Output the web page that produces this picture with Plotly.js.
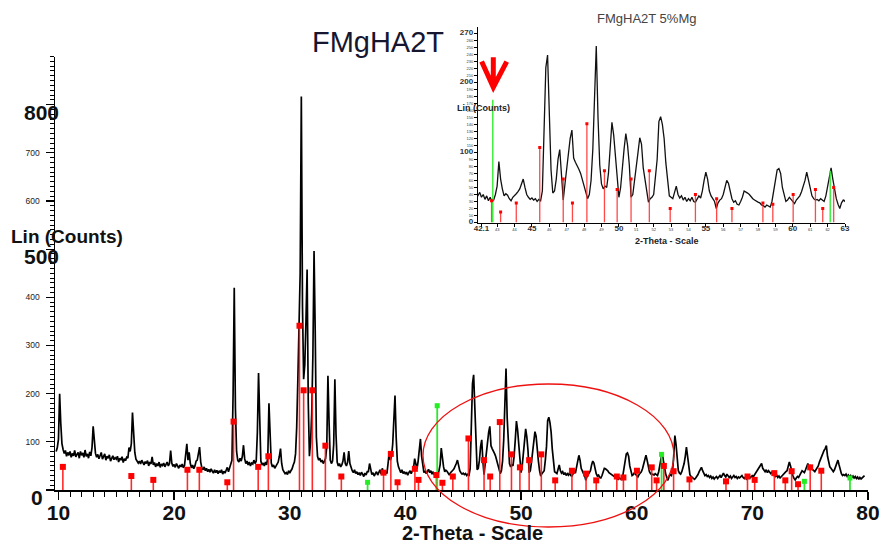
<!DOCTYPE html>
<html>
<head>
<meta charset="utf-8">
<script src="https://cdn.plot.ly/plotly-3.0.1.min.js"></script>
<style>html,body{margin:0;padding:0;background:#fff}#chart{width:886px;height:543px}</style>
</head>
<body>
<div id="chart"></div>
<script>
// ---- Diffractogram (2-theta sampled every 0.1 deg from 9.8) ----
const thetaStart = 9.8;
const thetaStep = 0.1;
const counts = [
  80, 88,
  105, 200, 138, 96, 84, 76, 82, 70, 78, 72,      // 10
  80, 68, 76, 71, 82, 69, 74, 78, 66, 80,         // 11
  72, 77, 68, 83, 70, 75, 66, 79, 71, 88,         // 12
  132, 96, 76, 68, 74, 65, 72, 78, 64, 70,        // 13
  75, 62, 70, 66, 73, 60, 68, 71, 63, 67,         // 14
  64, 70, 58, 66, 62, 69, 57, 65, 61, 68,         // 15
  66, 88, 80, 96, 161, 118, 78, 64, 60, 56,       // 16
  60, 54, 62, 57, 52, 59, 55, 61, 50, 58,         // 17
  54, 69, 52, 57, 48, 55, 50, 58, 47, 54,         // 18
  51, 56, 48, 53, 58, 50, 55, 82, 56, 49,         // 19
  53, 47, 55, 50, 45, 52, 48, 54, 46, 51,         // 20
  70, 96, 62, 78, 55, 46, 52, 44, 50, 60,         // 21
  62, 75, 89, 58, 46, 42, 48, 40, 45, 38,         // 22
  43, 37, 44, 39, 35, 42, 36, 41, 34, 40,         // 23
  36, 42, 33, 39, 35, 41, 47, 38, 46, 52,         // 24
  62, 200, 420, 170, 80, 62, 58, 66, 60, 70,      // 25
  93, 65, 55, 60, 52, 58, 50, 56, 54, 62,         // 26
  55, 60, 120, 243, 110, 60, 52, 56, 50, 58,      // 27
  52, 68, 180, 110, 56, 48, 52, 45, 50, 55,       // 28
  58, 70, 86, 55, 42, 38, 34, 36, 32, 40,         // 29
  35, 40, 44, 52, 58, 75, 130, 230, 340, 450,     // 30
  817, 380, 230, 260, 350, 458, 180, 70, 100, 160,// 31
  280, 496, 330, 110, 70, 62, 66, 58, 62, 55,     // 32
  60, 66, 90, 237, 140, 62, 55, 60, 95, 230,      // 33
  115, 58, 50, 55, 48, 52, 60, 78, 55, 50,        // 34
  58, 81, 55, 45, 40, 36, 42, 34, 38, 32,         // 35
  36, 30, 37, 33, 28, 35, 31, 38, 38, 55,         // 36
  40, 32, 36, 29, 34, 38, 31, 35, 42, 33,         // 37
  45, 36, 32, 38, 34, 55, 78, 62, 70, 95,         // 38
  150, 196, 110, 60, 48, 40, 36, 42, 34, 38,      // 39
  33, 37, 31, 36, 40, 34, 38, 45, 65, 50,         // 40
  44, 60, 90, 106, 70, 45, 36, 40, 34, 38,        // 41
  43, 36, 40, 33, 38, 31, 36, 30, 32, 40,         // 42
  52, 87, 62, 48, 38, 41, 39, 34, 31, 36,         // 43
  38, 41, 44, 48, 55, 62, 50, 40, 36, 33,         // 44
  35, 32, 34, 30, 33, 31, 45, 120, 221, 239,      // 45
  160, 75, 42, 45, 62, 90, 104, 60, 32, 55,       // 46
  80, 100, 120, 132, 92, 86, 82, 76, 70, 60,      // 47
  52, 42, 34, 40, 60, 104, 198, 252, 150, 82,     // 48
  55, 48, 52, 50, 70, 104, 143, 125, 95, 56,      // 49
  36, 50, 82, 105, 127, 110, 82, 36, 40, 58,      // 50
  82, 100, 121, 112, 78, 60, 40, 29, 34, 36,      // 51
  40, 62, 90, 144, 151, 140, 120, 85, 60, 38,     // 52
  36, 34, 43, 52, 40, 35, 38, 32, 36, 30,         // 53
  34, 31, 36, 30, 29, 33, 38, 35, 45, 60,         // 54
  72, 62, 45, 38, 34, 30, 20, 28, 32, 34,         // 55
  40, 52, 60, 56, 42, 34, 29, 31, 26, 25,         // 56
  30, 36, 45, 44, 42, 40, 36, 34, 32, 30,         // 57
  29, 28, 25, 24, 22, 25, 23, 22, 30, 45,         // 58
  60, 75, 77, 70, 50, 38, 30, 32, 36, 33,         // 59
  30, 27, 32, 35, 38, 44, 52, 60, 72, 62,         // 60
  48, 38, 34, 32, 33, 31, 34, 32, 30, 38,         // 61
  52, 70, 78, 62, 45, 34, 26, 20, 28, 32,         // 62
  30, 40, 70, 113, 95, 60, 40, 35, 33, 38,        // 63
  45, 55, 70, 89, 70, 45, 32, 28, 26, 24,         // 64
  22, 25, 28, 32, 38, 44, 47, 40, 35, 30,         // 65
  32, 28, 30, 26, 29, 24, 27, 23, 26, 28,         // 66
  24, 27, 30, 26, 32, 35, 30, 27, 33, 28,         // 67
  26, 29, 24, 27, 30, 26, 28, 24, 27, 25,         // 68
  28, 30, 26, 24, 27, 23, 26, 29, 25, 28,         // 69
  30, 28, 32, 35, 38, 42, 48, 52, 55, 45,         // 70
  40, 38, 42, 36, 40, 38, 34, 37, 32, 30,         // 71
  28, 31, 26, 29, 25, 28, 30, 33, 36, 38,         // 72
  40, 52, 58, 50, 38, 30, 24, 21, 25, 28,         // 73
  26, 30, 35, 40, 38, 36, 42, 48, 55, 46,         // 74
  52, 45, 42, 40, 38, 42, 46, 50, 58, 65,         // 75
  72, 78, 82, 86, 92, 70, 55, 48, 45, 40,         // 76
  38, 42, 48, 55, 62, 52, 40, 34, 30, 32,         // 77
  30, 33, 28, 31, 27, 30, 26, 29, 25, 28,         // 78
  24, 27, 22, 26, 23, 25, 28, 30                  // 79
];

// ---- Reference pattern sticks ----
const redPos = [10.38, 16.3, 18.2, 21.15, 22.18, 24.6, 25.14, 27.27, 28.15, 30.84, 31.2, 31.95, 33.08, 34.46,
  38.11, 38.74, 39.32, 40.82, 41.13, 42.68, 43.2, 44.1, 45.45, 46.8, 47.33, 48.16, 49.17, 49.9, 50.7, 51.75,
  52.95, 54.4, 55.62, 56.5, 58.28, 58.85, 60.02, 61.3, 61.72, 62.35, 63.19, 64.56, 67.72, 69.58, 70.2, 71.9,
  72.85, 73.4, 73.95, 75.0, 75.96];
const redInt = [48, 29, 21, 42, 42, 16, 142, 48, 70, 341, 207, 207, 92, 28,
  36, 75, 16, 44, 21, 31, 15, 28, 107, 62, 28, 141, 74, 47, 62, 74,
  20, 40, 34, 20, 28, 26, 40, 47, 20, 50, 39, 22, 18, 28, 21, 35,
  20, 39, 12, 47, 40];
const greenPos = [36.73, 42.75, 62.15, 74.5, 78.44];
const greenInt = [16, 175, 74, 18, 25];

// ---- Tick labels ----
const mainXTicks = [10, 20, 30, 40, 50, 60, 70, 80];
const mainYTicks = [0, 100, 200, 300, 400, 500, 600, 700, 800];
const mainYSmall = ['', '100', '200', '300', '400', '', '600', '700', ''];
const mainYBig = [0, 500, 800];
const insetXTicks = [42.1, 43, 44, 45, 46, 47, 48, 49, 50, 51, 52, 53, 54, 55, 56, 57, 58, 59, 60, 61, 62, 63];
const insetXBold = [42.1, 45, 50, 55, 60, 63];
const insetYTicks = [0,10,20,30,40,50,60,70,80,90,100,110,120,130,140,150,160,170,180,190,200,210,220,230,240,250,260,270];
const insetYBold = [0, 100, 200, 270];

const theta = counts.map((_, i) => +(thetaStart + i * thetaStep).toFixed(2));

function sticks(pos, val) {
  const xs = [], ys = [];
  pos.forEach((p, i) => { xs.push(p, p, null); ys.push(0, val[i], null); });
  return {xs, ys};
}
const rs = sticks(redPos, redInt), gs = sticks(greenPos, greenInt);

const FONT = 'Liberation Sans, Arial, sans-serif';
const L = 55, R = 18, T = 20, B = 53, W = 886, H = 543;
const pw = W - L - R, ph = H - T - B;
const px2paperX = p => (p - L) / pw;
const py2paperY = p => (H - B - p) / ph;

const traces = [
  {x: theta, y: counts, type: 'scatter', mode: 'lines', line: {color: '#000', width: 1.7}, xaxis: 'x', yaxis: 'y'},
  {x: rs.xs, y: rs.ys, type: 'scatter', mode: 'lines', line: {color: 'rgba(255,20,20,0.9)', width: 1.6}, xaxis: 'x', yaxis: 'y'},
  {x: gs.xs, y: gs.ys, type: 'scatter', mode: 'lines', line: {color: '#2ee62e', width: 1.8}, xaxis: 'x', yaxis: 'y'},
  {x: redPos, y: redInt, type: 'scatter', mode: 'markers', marker: {symbol: 'square', size: 6, color: '#ff0000'}, xaxis: 'x', yaxis: 'y'},
  {x: greenPos, y: greenInt, type: 'scatter', mode: 'markers', marker: {symbol: 'square', size: 5, color: '#22ee22'}, xaxis: 'x', yaxis: 'y'},
  // inset
  {x: theta, y: counts, type: 'scatter', mode: 'lines', line: {color: '#111', width: 1.3}, xaxis: 'x2', yaxis: 'y2'},
  {x: rs.xs, y: rs.ys, type: 'scatter', mode: 'lines', line: {color: 'rgba(255,40,40,0.85)', width: 1.3}, xaxis: 'x2', yaxis: 'y2'},
  {x: gs.xs, y: gs.ys, type: 'scatter', mode: 'lines', line: {color: '#33ee33', width: 1.4}, xaxis: 'x2', yaxis: 'y2'},
  {x: redPos, y: redInt, type: 'scatter', mode: 'markers', marker: {symbol: 'square', size: 3, color: '#ff0000'}, xaxis: 'x2', yaxis: 'y2'}
];

const annotations = [];
mainYBig.forEach(v => {
  annotations.push({text: '<b>' + v + '</b>', xref: 'paper', yref: 'y', x: px2paperX(v === 0 ? 37 : 41), y: v, yshift: -7.5,
    xanchor: 'center', yanchor: 'middle', showarrow: false, font: {size: 21, family: FONT, color: '#111'}});
});
annotations.push({text: '<b>Lin (Counts)</b>', xref: 'paper', yref: 'paper', x: px2paperX(9), y: py2paperY(237),
  xanchor: 'left', yanchor: 'middle', showarrow: false, font: {size: 19, family: FONT, color: '#111'}});
annotations.push({text: '<b>2-Theta - Scale</b>', xref: 'paper', yref: 'paper', x: px2paperX(472), y: py2paperY(533),
  xanchor: 'center', yanchor: 'middle', showarrow: false, font: {size: 20, family: FONT, color: '#111'}});
annotations.push({text: 'FMgHA2T 5%Mg', xref: 'paper', yref: 'paper', x: px2paperX(646), y: py2paperY(19),
  xanchor: 'center', yanchor: 'middle', showarrow: false, font: {size: 13, family: FONT, color: '#444'}});
annotations.push({text: '<b>Lin (Counts)</b>', xref: 'paper', yref: 'paper', x: px2paperX(483), y: py2paperY(108),
  xanchor: 'center', yanchor: 'middle', showarrow: false, font: {size: 9, family: FONT, color: '#222'}});
annotations.push({text: '<b>2-Theta - Scale</b>', xref: 'paper', yref: 'paper', x: px2paperX(667), y: py2paperY(241),
  xanchor: 'center', yanchor: 'middle', showarrow: false, font: {size: 9, family: FONT, color: '#222'}});

const layout = {
  width: W, height: H, autosize: false,
  margin: {l: L, r: R, t: T, b: B, pad: 0},
  paper_bgcolor: '#fff', plot_bgcolor: 'rgba(0,0,0,0)',
  showlegend: false, hovermode: false,
  title: {text: 'FMgHA2T', font: {size: 29, family: FONT, color: '#161630'}, xref: 'paper', x: px2paperX(378),
    yref: 'container', y: 1 - 42 / H, xanchor: 'center', yanchor: 'middle'},
  xaxis: {domain: [0, 1], range: [9.7, 80], anchor: 'y', showline: true, linecolor: '#000', linewidth: 1.5,
    showgrid: false, zeroline: false, tickmode: 'array', tickvals: mainXTicks, ticks: 'outside', ticklen: 8,
    ticklabelstandoff: -5,
    tickcolor: '#000', tickwidth: 1.3, tickfont: {size: 21, family: FONT, color: '#111', weight: 'bold'},
    minor: {tickmode: 'linear', tick0: 10, dtick: 1, ticks: 'outside', ticklen: 5, tickcolor: '#000', tickwidth: 1}},
  yaxis: {domain: [0, py2paperY(56.5)], range: [0, 900], anchor: 'x', showline: true, linecolor: '#000', linewidth: 1.5,
    showgrid: false, zeroline: false, tickmode: 'array', tickvals: mainYTicks, ticktext: mainYSmall,
    ticks: 'outside', ticklen: 8, tickcolor: '#000', tickwidth: 1.2, ticklabelstandoff: 4,
    tickfont: {size: 8.5, family: FONT, color: '#222'},
    minor: {tickmode: 'linear', tick0: 0, dtick: 10, ticks: 'outside', ticklen: 4, tickcolor: '#000', tickwidth: 1}},
  xaxis2: {domain: [px2paperX(478), px2paperX(845)], range: [41.9, 63], anchor: 'y2', showline: true, linecolor: '#000',
    linewidth: 1, showgrid: false, zeroline: false, tickmode: 'array', tickvals: insetXTicks,
    ticktext: insetXTicks.map(v => insetXBold.includes(v) ? '<span style="font-size:8px"><b>' + v + '</b></span>' : String(v)),
    ticks: 'outside', ticklen: 3, tickcolor: '#000', tickwidth: 1, tickfont: {size: 4, family: FONT, color: '#333'}},
  yaxis2: {domain: [py2paperY(222.5), py2paperY(27)], range: [0, 279], anchor: 'x2', showline: true, linecolor: '#000',
    linewidth: 1, showgrid: false, zeroline: false, tickmode: 'array', tickvals: insetYTicks,
    ticktext: insetYTicks.map(v => insetYBold.includes(v) ? '<span style="font-size:8px"><b>' + v + '</b></span>' : String(v)),
    ticks: 'outside', ticklen: 3, tickcolor: '#000', tickwidth: 1, tickfont: {size: 4, family: FONT, color: '#333'}},
  annotations: annotations,
  shapes: [
    {type: 'circle', xref: 'x', yref: 'paper', x0: 41.52, x1: 63.22, y0: py2paperY(527), y1: py2paperY(384),
      line: {color: '#ee1111', width: 1.3}, fillcolor: 'rgba(0,0,0,0)', layer: 'above'},
    {type: 'path', xref: 'x2', yref: 'y2', path: 'M42.11,229.7 L42.78,193.1 L43.55,229.7 M42.78,236 L42.78,198',
      line: {color: '#ff0000', width: 5}, layer: 'above'}
  ]
};

Plotly.newPlot('chart', traces, layout, {staticPlot: true, displayModeBar: false});
</script>
</body>
</html>
